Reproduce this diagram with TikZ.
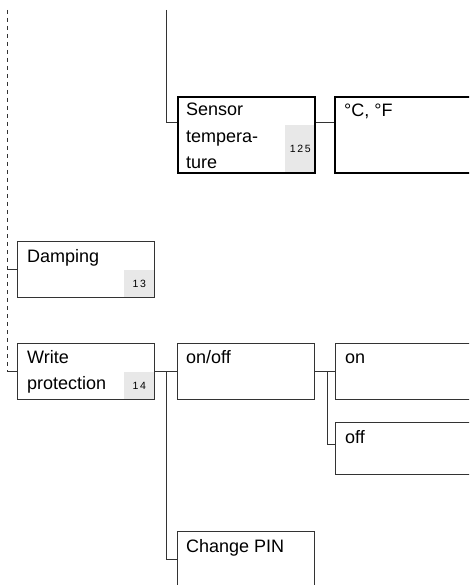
\documentclass[tikz,border=0pt]{standalone}
\usepackage{fontspec}
\setmainfont{Liberation Sans}
\usetikzlibrary{positioning, calc, backgrounds}
\definecolor{framecol}{RGB}{51,51,51}
\definecolor{numfill}{RGB}{232,232,232}

\begin{document}
\begin{tikzpicture}[
    x=1pt, y=-1pt,
    menubox/.style={draw=framecol, line width=1pt, minimum width=137pt,
                    minimum height=56pt, inner sep=0pt, anchor=north west},
    selbox/.style={menubox, draw=black, line width=2pt},
    boxtext/.style={anchor=north west, inner sep=0pt, align=left,
                    font=\fontsize{18}{26.5}\selectfont,
                    execute at begin node={\rule{0pt}{13pt}}},
    refnum/.style={fill=numfill, anchor=south east, minimum width=31pt,
                   minimum height=28pt, inner sep=0pt,
                   font=\fontsize{10.5}{12}\selectfont},
    link/.style={draw=framecol, line width=1pt},
    rail/.style={link, dash pattern=on 4pt off 4pt},
  ]
    \path[use as bounding box] (0,0) rectangle (469,585);
    \clip (0,0) rectangle (469,585);

    % -- menu boxes --
    \node[selbox, minimum height=76pt] (sensor)  at (177,96)  {};
    \node[selbox, minimum height=76pt] (celsius) at (334,96)  {};
    \node[menubox] (damp)  at (17,241)  {};
    \node[menubox] (wp)    at (17,343)  {};
    \node[menubox] (onoff) at (177,343) {};
    \node[menubox] (on)    at (335,343) {};
    \node[menubox, minimum height=52pt] (off) at (335,422) {};
    \node[menubox] (pin)   at (177,531) {};

    % -- texts --
    \node[boxtext] (sensor-t)  at ([xshift=9pt,yshift=-7pt]sensor.north west)   {Sensor\\tempera-\\ture};
    \node[boxtext] (celsius-t) at ([xshift=10pt,yshift=-7pt]celsius.north west) {°C, °F};
    \node[boxtext] (damp-t)    at ([xshift=10pt,yshift=-8pt]damp.north west)    {Damping};
    \node[boxtext] (wp-t)      at ([xshift=10pt,yshift=-7pt]wp.north west)      {Write\\protection};
    \node[boxtext] (onoff-t)   at ([xshift=9pt,yshift=-7pt]onoff.north west)    {on/off};
    \node[boxtext] (on-t)      at ([xshift=10pt,yshift=-7pt]on.north west)      {on};
    \node[boxtext] (off-t)     at ([xshift=10pt,yshift=-8pt]off.north west)     {off};
    \node[boxtext] (pin-t)     at ([xshift=9pt,yshift=-8pt]pin.north west)      {Change PIN};

    % -- reference numbers --
    \begin{scope}[on background layer]
      \node[refnum, minimum height=49pt] (sensor-n) at (sensor.south east) {1\,2\,5};
      \node[refnum] (damp-n) at (damp.south east) {1\,3};
      \node[refnum] (wp-n)   at (wp.south east)   {1\,4};
    \end{scope}

    % -- connectors --
    \coordinate (rail)  at (7,10);
    \coordinate (trunk) at (166,10);
    \draw[rail] (rail) -- (rail |- wp.west);
    \draw[link] (rail |- damp.west) -- (damp.west);
    \draw[link] (rail |- wp.west) -- (wp.west);
    \draw[link] (trunk) |- ([yshift=-27pt]sensor.north west);
    \draw[link] ([yshift=-27pt]sensor.north east) -- ([yshift=-27pt]celsius.north west);
    \draw[link] (wp.east) -- (onoff.west);
    \draw[link] ([xshift=11pt]wp.east) |- (pin.west);
    \draw[link] (onoff.east) -- (on.west);
    \draw[link] ([xshift=12pt]onoff.east) |- ([yshift=-22pt]off.north west);
\end{tikzpicture}
\end{document}
